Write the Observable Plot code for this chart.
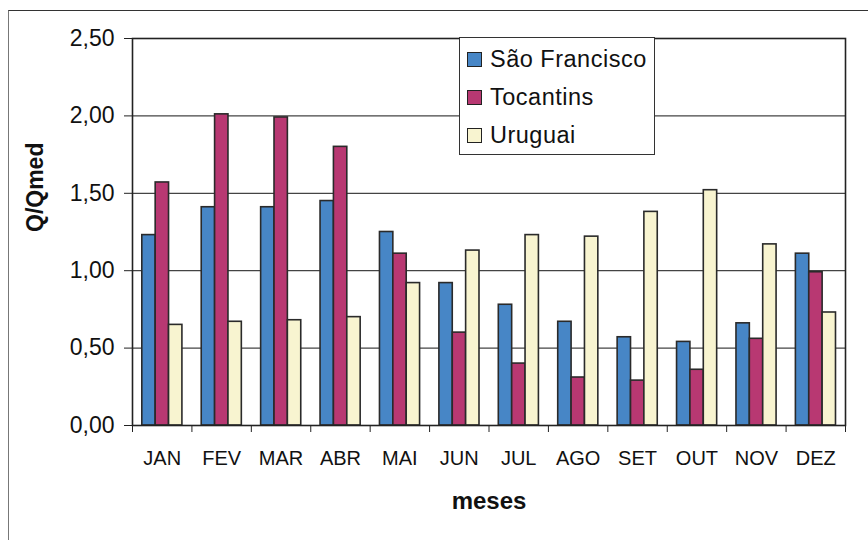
<!DOCTYPE html>
<html>
<head>
<meta charset="utf-8">
<script src="https://cdn.jsdelivr.net/npm/d3@7"></script>
<script src="https://cdn.jsdelivr.net/npm/@observablehq/plot@0.6"></script>
<style>
  html, body { margin: 0; padding: 0; background: #fff; }
  #wrap { position: relative; width: 868px; height: 540px; overflow: hidden; font-family: "Liberation Sans", Arial, sans-serif; }
  #outer { position: absolute; left: 8px; top: 10px; right: -2px; bottom: -2px; border-left: 1.5px solid #777; border-top: 1.5px solid #333; pointer-events: none; }
  #legend { position: absolute; left: 459px; top: 37px; width: 196px; height: 118px; box-sizing: border-box; border: 1.3px solid #333; background: #fff; padding-top: 2px; }
  .item { height: 38px; display: flex; align-items: center; padding-left: 7px; font-size: 23.5px; color: #111; letter-spacing: 0.5px; }
  .sw { width: 15px; height: 15px; box-sizing: border-box; border: 1.5px solid #222; margin-right: 8px; flex: none; }
</style>
</head>
<body>
<div id="wrap">
  <div id="chart"></div>
  <div id="outer"></div>
  <div id="legend"></div>
</div>
<script>
const months = ["JAN","FEV","MAR","ABR","MAI","JUN","JUL","AGO","SET","OUT","NOV","DEZ"];
const series = ["São Francisco","Tocantins","Uruguai"];
const saoFrancisco = [1.23, 1.41, 1.41, 1.45, 1.25, 0.92, 0.78, 0.67, 0.57, 0.54, 0.66, 1.11];
const tocantins    = [1.57, 2.01, 1.99, 1.80, 1.11, 0.60, 0.40, 0.31, 0.29, 0.36, 0.56, 0.99];
const uruguai      = [0.65, 0.67, 0.68, 0.70, 0.92, 1.13, 1.23, 1.22, 1.38, 1.52, 1.17, 0.73];
const yTicks = [0, 0.5, 1.0, 1.5, 2.0, 2.5];
const colors = ["#4786c6", "#b83872", "#f8f4d0"];
const xLabel = "meses";
const yLabel = "Q/Qmed";

const values = [saoFrancisco, tocantins, uruguai];
const data = [];
months.forEach((m, i) => series.forEach((s, k) => data.push({month: m, i, s, k, v: values[k][i]})));

// group layout within each month slot (fractions of the month slot)
const groupStart = 0.165, barW = 0.225;

const chart = Plot.plot({
  width: 868,
  height: 540,
  marginLeft: 132,
  marginRight: 23,
  marginTop: 38,
  marginBottom: 115,
  style: {fontFamily: "'Liberation Sans', Arial, sans-serif", color: "#111", background: "transparent"},
  x: {domain: [0, months.length], label: null},
  y: {domain: [0, 2.5], label: null},
  color: {domain: series, range: colors},
  marks: [
    Plot.gridY(yTicks, {stroke: "#444", strokeOpacity: 1, strokeWidth: 1.2}),
    Plot.rectY(data, {
      x1: d => d.i + groupStart + d.k * barW,
      x2: d => d.i + groupStart + (d.k + 1) * barW,
      y: "v",
      fill: "s",
      stroke: "#2a2a2a",
      strokeWidth: 1.6
    }),
    Plot.frame({stroke: "#222", strokeWidth: 1.6}),
    Plot.axisY({ticks: yTicks, tickFormat: d => d.toFixed(2).replace(".", ","), tickSize: 8, tickPadding: 10, fontSize: 23, label: null, stroke: "#222"}),
    Plot.axisX({ticks: d3.range(months.length + 1), tickFormat: () => "", tickSize: 7, label: null, stroke: "#222"}),
    Plot.axisX({ticks: months.map((m, i) => i + 0.5), tickFormat: d => months[Math.floor(d)], tickSize: 0, tickPadding: 25, fontSize: 20, label: null}),
    Plot.text([xLabel], {frameAnchor: "bottom", dy: 83, fontSize: 24, fontWeight: "bold", fill: "#111"}),
    Plot.text([yLabel], {frameAnchor: "left", dx: -97, rotate: -90, fontSize: 23, fontWeight: "bold", fill: "#111"})
  ]
});
document.getElementById("chart").appendChild(chart);

const legend = document.getElementById("legend");
series.forEach((s, k) => {
  const row = document.createElement("div");
  row.className = "item";
  const sw = document.createElement("span");
  sw.className = "sw";
  sw.style.background = colors[k];
  row.appendChild(sw);
  row.appendChild(document.createTextNode(s));
  legend.appendChild(row);
});
</script>
</body>
</html>
